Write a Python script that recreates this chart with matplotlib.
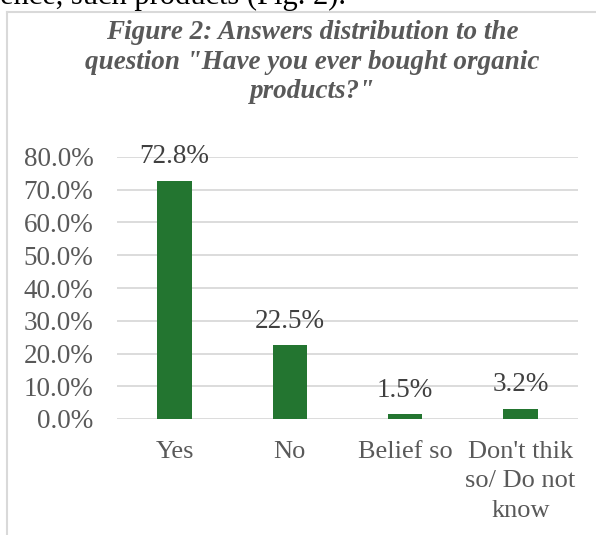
import matplotlib.pyplot as plt
import numpy as np
from matplotlib.lines import Line2D

categories = ['Yes', 'No', 'Belief so', "Don't thik\nso/ Do not\nknow"]
values = [72.8, 22.5, 1.5, 3.2]
y_ticks = [0, 10, 20, 30, 40, 50, 60, 70, 80]

W, H = 596, 535
fig = plt.figure(figsize=(W / 100, H / 100), dpi=100)
plt.rcParams['font.family'] = ['Liberation Serif', 'DejaVu Serif']

# plot area in pixels: x 117..578, y 157 (80%) .. 419 (0%)
ax = fig.add_axes([117 / W, 1 - 419 / H, (578 - 117) / W, (419 - 157) / H])

x = np.arange(len(categories))
bars = ax.bar(x, values, width=0.30, color='#237530', zorder=3)

for xi, v in zip(x, values):
    ax.annotate(f'{v:.1f}%', (xi, v), xytext=(0, 17), textcoords='offset points',
                ha='center', va='center', fontsize=19.5, color='#404040', zorder=4)

ax.set_xlim(-0.5, len(categories) - 0.5)
ax.set_ylim(0, 80)
ax.set_yticks(y_ticks)
ax.set_yticklabels([f'{t:.1f}%' for t in y_ticks], fontsize=19.5, color='#595959')
ax.set_xticks(x)
ax.set_xticklabels(categories, fontsize=19, color='#595959', linespacing=1.42)
ax.tick_params(axis='both', length=0)
ax.tick_params(axis='y', pad=17)
ax.tick_params(axis='x', pad=16)
ax.yaxis.grid(True, color='#D9D9D9', linewidth=1.3, zorder=0)
ax.set_axisbelow(True)
for s in ax.spines.values():
    s.set_visible(False)

# chart title
fig.text(312 / W, 1 - 62 / H,
         'Figure 2: Answers distribution to the\nquestion "Have you ever bought organic\nproducts?"',
         ha='center', va='center', fontsize=19.5, fontweight='bold', fontstyle='italic',
         color='#595959', linespacing=1.22)

# text of the page above the chart, cut off at the top
fig.text(0, 1 - 4 / H, 'ence, such products (Fig. 2).', ha='left', va='baseline',
         fontsize=22, color='black')

# chart frame
fig.add_artist(Line2D([7.5 / W, 7.5 / W], [0, 1 - 12 / H], transform=fig.transFigure,
                      color='#D9D9D9', linewidth=1.5))
fig.add_artist(Line2D([7.5 / W, 1], [1 - 12 / H, 1 - 12 / H], transform=fig.transFigure,
                      color='#D9D9D9', linewidth=1.5))

plt.savefig('out.png', dpi=100)
